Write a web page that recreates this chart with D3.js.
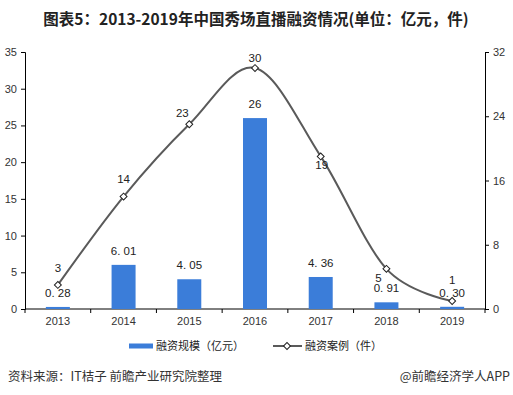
<!DOCTYPE html>
<html>
<head>
<meta charset="utf-8">
<script src="https://cdn.jsdelivr.net/npm/d3@7"></script>
<style>
  body { margin: 0; background: #fff; }
  svg { display: block; font-family: "Liberation Sans", Arial, "Noto Sans CJK SC", sans-serif; }
  .cjk { font-family: "Noto Sans CJK SC", sans-serif; }
</style>
</head>
<body>
<div id="chart"></div>
<script>
// data
var years = ["2013", "2014", "2015", "2016", "2017", "2018", "2019"];
var fundAmount = [0.28, 6.01, 4.05, 26, 4.36, 0.91, 0.30];   // 融资规模（亿元）
var fundLabels = ["0. 28", "6. 01", "4. 05", "26", "4. 36", "0. 91", "0. 30"];
var fundCases = [3, 14, 23, 30, 19, 5, 1];                    // 融资案例（件）
var leftTicks = [0, 5, 10, 15, 20, 25, 30, 35];
var rightTicks = [0, 8, 16, 24, 32];

(function() {
    var width = 513,
        height = 395,
        left = 25,
        right = 485,
        top = 52,
        bottom = 309,
        barWidth = 24,
        barColor = "#3b7dd9",
        lineColor = "#5a5a5a";

    var svg = d3.select("#chart").append("svg")
                .attr("width", width)
                .attr("height", height);

    var x = d3.scaleBand().domain(years).range([left, right]).padding(0);
    var yL = d3.scaleLinear().domain([0, 35]).range([bottom, top]);
    var yR = d3.scaleLinear().domain([0, 32]).range([bottom, top]);

    // title
    svg.append("text")
       .attr("class", "cjk")
       .attr("x", 256)
       .attr("y", 25)
       .attr("text-anchor", "middle")
       .style("font-size", "15.5px")
       .style("font-weight", "bold")
       .style("fill", "#222")
       .text("图表5：2013-2019年中国秀场直播融资情况(单位：亿元，件)");

    // axes
    var axisL = svg.append("g")
                   .attr("transform", "translate(" + left + ",0)")
                   .call(d3.axisLeft(yL).tickValues(leftTicks).tickSize(4).tickPadding(4));
    var axisR = svg.append("g")
                   .attr("transform", "translate(" + right + ",0)")
                   .call(d3.axisRight(yR).tickValues(rightTicks).tickSize(4).tickPadding(4));

    [axisL, axisR].forEach(function(g) {
        g.select(".domain").attr("stroke", "#000");
        g.selectAll(".tick line").attr("stroke", "#000");
        g.selectAll(".tick text")
         .style("font-size", "11px")
         .style("fill", "#333")
         .style("font-family", "Liberation Sans, Arial, sans-serif");
    });

    // x axis: line + ticks at category boundaries
    var xAxis = svg.append("g");
    xAxis.append("line")
         .attr("x1", left).attr("x2", right)
         .attr("y1", bottom).attr("y2", bottom)
         .attr("stroke", "#000");
    xAxis.selectAll(".xtick")
         .data(years.concat(["end"]))
         .enter()
         .append("line")
         .attr("class", "xtick")
         .attr("x1", function(d) { return d === "end" ? right : x(d); })
         .attr("x2", function(d) { return d === "end" ? right : x(d); })
         .attr("y1", bottom)
         .attr("y2", bottom + 4)
         .attr("stroke", "#000");
    xAxis.selectAll(".xlabel")
         .data(years)
         .enter()
         .append("text")
         .attr("class", "xlabel")
         .attr("x", function(d) { return x(d) + x.bandwidth() / 2; })
         .attr("y", bottom + 16)
         .attr("text-anchor", "middle")
         .style("font-size", "11px")
         .style("fill", "#333")
         .text(function(d) { return d; });

    // bars
    var barData = years.map(function(y, i) {
        return {year: y, value: fundAmount[i], label: fundLabels[i]};
    });

    svg.selectAll(".bar")
       .data(barData)
       .enter()
       .append("rect")
       .attr("class", "bar")
       .attr("x", function(d) { return x(d.year) + x.bandwidth() / 2 - barWidth / 2; })
       .attr("width", barWidth)
       .attr("y", function(d) { return yL(d.value); })
       .attr("height", function(d) { return bottom - yL(d.value); })
       .style("fill", barColor);

    svg.selectAll(".barLabel")
       .data(barData)
       .enter()
       .append("text")
       .attr("class", "barLabel")
       .attr("x", function(d) { return x(d.year) + x.bandwidth() / 2; })
       .attr("y", function(d) { return yL(d.value) - 10; })
       .attr("text-anchor", "middle")
       .style("font-size", "11.5px")
       .style("fill", "#222")
       .text(function(d) { return d.label; });

    // line (smoothed like the original)
    var caseData = years.map(function(y, i) {
        return {year: y, value: fundCases[i]};
    });
    var cx = function(d) { return x(d.year) + x.bandwidth() / 2; };

    svg.append("path")
       .datum(caseData)
       .attr("d", d3.line()
                    .x(cx)
                    .y(function(d) { return yR(d.value); })
                    .curve(d3.curveCardinal.tension(0)))
       .style("fill", "none")
       .style("stroke", lineColor)
       .style("stroke-width", 2);

    var diamond = d3.symbol().type(d3.symbolSquare).size(24);

    svg.selectAll(".marker")
       .data(caseData)
       .enter()
       .append("path")
       .attr("class", "marker")
       .attr("d", diamond)
       .attr("transform", function(d) { return "translate(" + cx(d) + "," + yR(d.value) + ") rotate(45)"; })
       .style("fill", "#fff")
       .style("stroke", "#222")
       .style("stroke-width", 1);

    // label nudges as placed in the original (dx, dy of baseline from marker)
    var nudge = {"2013": [0, -13], "2014": [0, -14], "2015": [-7, -7], "2016": [0, -6],
                 "2017": [1, 13], "2018": [-8, 13], "2019": [0, -17]};

    svg.selectAll(".caseLabel")
       .data(caseData)
       .enter()
       .append("text")
       .attr("class", "caseLabel")
       .attr("x", function(d) { return cx(d) + nudge[d.year][0]; })
       .attr("y", function(d) { return yR(d.value) + nudge[d.year][1]; })
       .attr("text-anchor", "middle")
       .style("font-size", "11.5px")
       .style("fill", "#222")
       .text(function(d) { return d.value; });

    // legend
    var legend = svg.append("g").attr("transform", "translate(0,346)");
    legend.append("rect")
          .attr("x", 129).attr("y", -2.5)
          .attr("width", 24).attr("height", 5)
          .style("fill", barColor);
    legend.append("text")
          .attr("class", "cjk")
          .attr("x", 156).attr("y", 4)
          .style("font-size", "11px")
          .style("fill", "#222")
          .text("融资规模（亿元）");
    legend.append("line")
          .attr("x1", 273).attr("x2", 302)
          .attr("y1", 0).attr("y2", 0)
          .style("stroke", lineColor)
          .style("stroke-width", 2);
    legend.append("path")
          .attr("d", diamond)
          .attr("transform", "translate(287,0) rotate(45)")
          .style("fill", "#fff")
          .style("stroke", "#222");
    legend.append("text")
          .attr("class", "cjk")
          .attr("x", 305).attr("y", 4)
          .style("font-size", "11px")
          .style("fill", "#222")
          .text("融资案例（件）");

    // footer
    svg.append("text")
       .attr("class", "cjk")
       .attr("x", 8).attr("y", 381)
       .style("font-size", "12.5px")
       .style("fill", "#333")
       .text("资料来源：IT桔子 前瞻产业研究院整理");
    svg.append("text")
       .attr("class", "cjk")
       .attr("x", 510).attr("y", 381)
       .attr("text-anchor", "end")
       .style("font-size", "12.5px")
       .style("fill", "#333")
       .text("@前瞻经济学人APP");
})();
</script>
</body>
</html>
